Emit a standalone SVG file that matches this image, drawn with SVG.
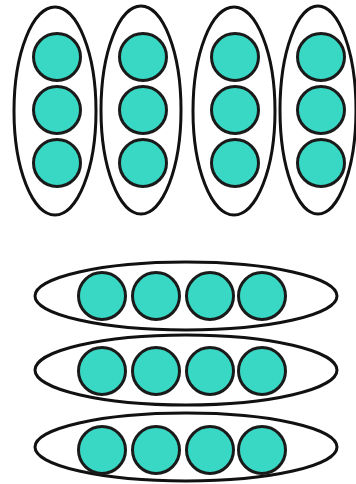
<svg xmlns="http://www.w3.org/2000/svg" width="356" height="484" viewBox="0 0 356 484">
<style>
.grp{fill:#fff;stroke:#111;stroke-width:3}
.dot{fill:#38d8c4;stroke:#1a1a1a;stroke-width:3}
</style>
<rect width="356" height="484" fill="#fff"/>
<g id="col1"><ellipse class="grp" cx="55" cy="111" rx="41" ry="104"/><circle class="dot" cx="57" cy="57" r="23.5"/><circle class="dot" cx="57" cy="110" r="23.5"/><circle class="dot" cx="57" cy="163" r="23.5"/></g>
<g id="col2"><ellipse class="grp" cx="141" cy="110" rx="40" ry="104"/><circle class="dot" cx="143" cy="57" r="23.5"/><circle class="dot" cx="143" cy="110" r="23.5"/><circle class="dot" cx="143" cy="163" r="23.5"/></g>
<g id="col3"><ellipse class="grp" cx="234" cy="111" rx="41" ry="104"/><circle class="dot" cx="235" cy="57" r="23.5"/><circle class="dot" cx="235" cy="110" r="23.5"/><circle class="dot" cx="235" cy="163" r="23.5"/></g>
<g id="col4"><ellipse class="grp" cx="318" cy="110" rx="38" ry="104"/><circle class="dot" cx="321" cy="57" r="23.5"/><circle class="dot" cx="321" cy="110" r="23.5"/><circle class="dot" cx="321" cy="163" r="23.5"/></g>
<g id="row1"><ellipse class="grp" cx="186" cy="296" rx="151" ry="34"/><circle class="dot" cx="102" cy="296" r="23.5"/><circle class="dot" cx="156" cy="296" r="23.5"/><circle class="dot" cx="210" cy="296" r="23.5"/><circle class="dot" cx="262" cy="296" r="23.5"/></g>
<g id="row2"><ellipse class="grp" cx="186" cy="370" rx="151" ry="35"/><circle class="dot" cx="102" cy="371" r="23.5"/><circle class="dot" cx="156" cy="371" r="23.5"/><circle class="dot" cx="210" cy="371" r="23.5"/><circle class="dot" cx="262" cy="371" r="23.5"/></g>
<g id="row3"><ellipse class="grp" cx="186" cy="447" rx="151" ry="34"/><circle class="dot" cx="102" cy="450" r="23.5"/><circle class="dot" cx="156" cy="450" r="23.5"/><circle class="dot" cx="210" cy="450" r="23.5"/><circle class="dot" cx="262" cy="450" r="23.5"/></g>
<g id="connectors"/>
</svg>
